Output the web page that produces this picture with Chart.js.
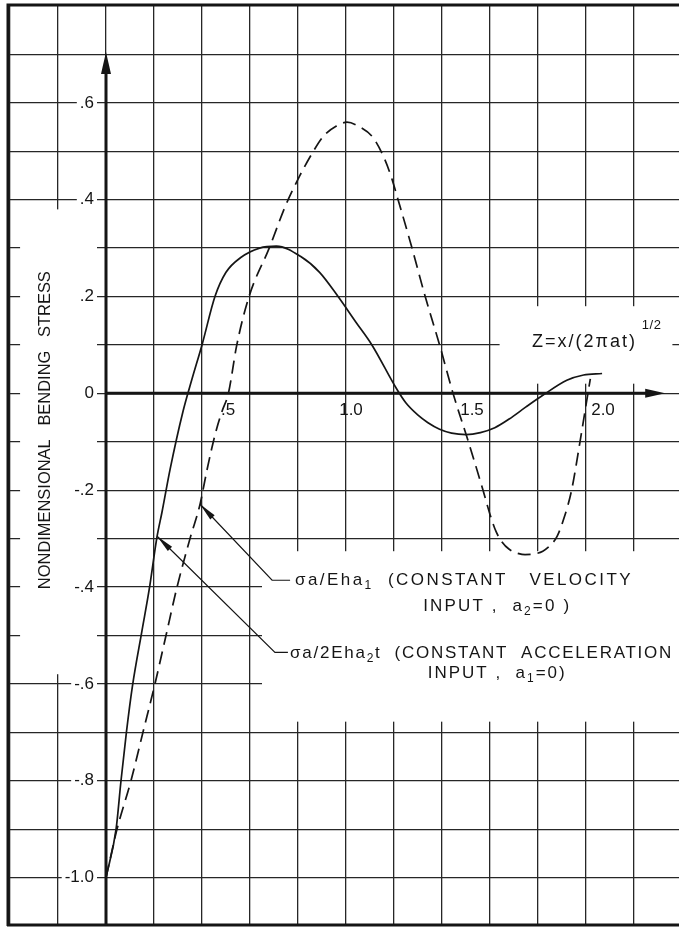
<!DOCTYPE html>
<html>
<head>
<meta charset="utf-8">
<title>Nondimensional bending stress vs Z</title>
<script src="https://cdn.jsdelivr.net/npm/chart.js@4.4.1/dist/chart.umd.min.js"></script>
<style>
  html, body { margin: 0; padding: 0; background: #fff; }
  #wrap { width: 679px; height: 927px; }
</style>
</head>
<body>
<div id="wrap"><canvas id="stressChart" width="679" height="927"></canvas></div>
<script>
// values
// solid curve: constant acceleration input
const solidZ = [0, 0.042, 0.0625, 0.085, 0.11, 0.15, 0.18, 0.213, 0.233, 0.267, 0.32, 0.358, 0.40, 0.454, 0.50, 0.56, 0.64, 0.71, 0.81, 0.89, 0.967, 1.04, 1.108, 1.21, 1.25, 1.30, 1.34, 1.39, 1.44, 1.50, 1.56, 1.62, 1.68, 1.75, 1.82, 1.92, 1.99, 2.067];
const solidStress = [-1.0, -0.90, -0.80, -0.70, -0.605, -0.49, -0.405, -0.295, -0.246, -0.157, -0.039, 0.029, 0.10, 0.20, 0.25, 0.28, 0.30, 0.304, 0.283, 0.25, 0.20, 0.148, 0.10, 0.01, -0.02, -0.045, -0.06, -0.074, -0.082, -0.085, -0.081, -0.071, -0.053, -0.028, -0.004, 0.027, 0.038, 0.041];

// dashed curve: constant velocity input
const dashedZ = [0, 0.046, 0.104, 0.154, 0.204, 0.25, 0.296, 0.35, 0.392, 0.40, 0.42, 0.44, 0.46, 0.485, 0.51, 0.545, 0.596, 0.68, 0.75, 0.808, 0.858, 0.904, 0.96, 1.004, 1.058, 1.113, 1.16, 1.19, 1.217, 1.275, 1.33, 1.39, 1.446, 1.51, 1.571, 1.60, 1.625, 1.65, 1.68, 1.72, 1.746, 1.78, 1.82, 1.855, 1.88, 1.91, 1.94, 1.975, 2.008, 2.018];
const dashedStress = [-1.0, -0.90, -0.80, -0.70, -0.60, -0.50, -0.40, -0.30, -0.229, -0.21, -0.16, -0.115, -0.075, -0.035, 0.0, 0.10, 0.20, 0.30, 0.39, 0.45, 0.495, 0.53, 0.552, 0.56, 0.55, 0.528, 0.485, 0.445, 0.40, 0.30, 0.20, 0.10, 0.0, -0.10, -0.20, -0.25, -0.285, -0.307, -0.322, -0.331, -0.333, -0.332, -0.326, -0.312, -0.295, -0.255, -0.20, -0.10, 0.0, 0.03];

// grid and tick labels
const xGridValues = [-0.4, -0.2, 0, 0.2, 0.4, 0.6, 0.8, 1.0, 1.2, 1.4, 1.6, 1.8, 2.0, 2.2];
const yGridValues = [-1.0, -0.9, -0.8, -0.7, -0.6, -0.5, -0.4, -0.3, -0.2, -0.1, 0, 0.1, 0.2, 0.3, 0.4, 0.5, 0.6, 0.7];
const xTickValues = [0.5, 1.0, 1.5, 2.0];
const xTickLabels = ['.5', '1.0', '1.5', '2.0'];
const yTickValues = [0.6, 0.4, 0.2, 0, -0.2, -0.4, -0.6, -0.8, -1.0];
const yTickLabels = ['.6', '.4', '.2', '0', '-.2', '-.4', '-.6', '-.8', '-1.0'];

const INK = '#151515';
const FONT = '"Liberation Sans", Arial, sans-serif';

// x labels sit a little right of their tick, clear of the curves (px)
const xLabelNudge = [2, 5, 6, 17];

// blank areas where the grid is interrupted (data units: z0, z1, top, bottom)
const gridGaps = [
    [-0.358, -0.0375, 0.38, -0.58],
    [1.64, 2.36, 0.18, 0.02],
    [0.65, 2.40, -0.326, -0.678]
];

// leader notes: arrow tip on the curve, elbow, text lines (sub = subscript)
const notes = [
    {
        tip: [0.392, -0.229], elbow: [0.692, -0.386], end: 0.767,
        lines: [
            { parts: [{ t: 'σa/Eha' }, { t: '1', sub: true }, { t: '  (CONSTANT   VELOCITY' }], z: 0.7875, v: -0.386, w: 338, align: 'left' },
            { parts: [{ t: 'INPUT ,  a' }, { t: '2', sub: true }, { t: '=0 )' }], z: 1.63, v: -0.44, w: 148, align: 'center' }
        ]
    },
    {
        tip: [0.213, -0.295], elbow: [0.704, -0.535], end: 0.758,
        lines: [
            { parts: [{ t: 'σa/2Eha' }, { t: '2', sub: true }, { t: 't  (CONSTANT  ACCELERATION' }], z: 0.767, v: -0.537, w: 383, align: 'left' },
            { parts: [{ t: 'INPUT ,  a' }, { t: '1', sub: true }, { t: '=0)' }], z: 1.63, v: -0.578, w: 139, align: 'center' }
        ]
    }
];

function toPoints(xs, ys) {
    return xs.map((x, i) => ({ x: x, y: ys[i] }));
}

// draws text pieces spread (letter spacing) or squeezed to a given width
function drawRich(ctx, parts, x, y, width, align, size) {
    ctx.save();
    ctx.letterSpacing = '0px';
    ctx.textAlign = 'left';
    const fonts = parts.map(p => (p.sub ? Math.round(size * 0.7) : size) + 'px ' + FONT);
    const widths = parts.map((p, i) => { ctx.font = fonts[i]; return ctx.measureText(p.t).width; });
    const total = widths.reduce((a, b) => a + b, 0);
    const count = parts.reduce((a, p) => a + p.t.length, 0);
    let left = align === 'center' ? x - width / 2 : x;
    if (total >= width) {
        ctx.translate(left, y);
        ctx.scale(width / total, 1);
        left = 0;
        y = 0;
    }
    const gap = Math.max((width - total) / count, 0);
    ctx.letterSpacing = gap + 'px';
    let cx = left;
    parts.forEach((p, i) => {
        ctx.font = fonts[i];
        ctx.fillText(p.t, cx, p.sub ? y + size * 0.3 : y);
        cx += widths[i] + gap * p.t.length;
    });
    ctx.restore();
}

function arrowHead(ctx, tx, ty, fromX, fromY, len, half) {
    const a = Math.atan2(ty - fromY, tx - fromX);
    ctx.beginPath();
    ctx.moveTo(tx, ty);
    ctx.lineTo(tx - len * Math.cos(a) + half * Math.sin(a), ty - len * Math.sin(a) - half * Math.cos(a));
    ctx.lineTo(tx - len * Math.cos(a) - half * Math.sin(a), ty - len * Math.sin(a) + half * Math.cos(a));
    ctx.closePath();
    ctx.fill();
}

const figurePlugin = {
    id: 'figure',
    beforeDatasetsDraw(chart) {
        const ctx = chart.ctx;
        const X = v => chart.scales.x.getPixelForValue(v);
        const Y = v => chart.scales.y.getPixelForValue(v);
        const area = chart.chartArea;

        ctx.save();
        // white gaps over the grid
        ctx.fillStyle = '#fff';
        gridGaps.forEach(g => {
            ctx.fillRect(X(g[0]), Y(g[2]), X(g[1]) - X(g[0]), Y(g[3]) - Y(g[2]));
        });

        // frame: left, top, bottom (no right edge in the original)
        ctx.strokeStyle = INK;
        ctx.lineWidth = 3;
        ctx.beginPath();
        ctx.moveTo(area.left + 1, area.bottom);
        ctx.lineTo(area.left + 1, area.top - 1);
        ctx.lineTo(area.right, area.top - 1);
        ctx.moveTo(area.left, area.bottom - 1);
        ctx.lineTo(area.right, area.bottom - 1);
        ctx.stroke();

        // axes with arrows
        ctx.fillStyle = INK;
        const yTip = Y(0.705);
        ctx.beginPath();
        ctx.moveTo(X(0), area.bottom);
        ctx.lineTo(X(0), yTip + 10);
        ctx.stroke();
        arrowHead(ctx, X(0), yTip, X(0), area.bottom, 22, 5);
        const xTip = X(2.33);
        ctx.beginPath();
        ctx.moveTo(X(0) - 1, Y(0));
        ctx.lineTo(xTip - 10, Y(0));
        ctx.stroke();
        arrowHead(ctx, xTip, Y(0), X(0), Y(0), 20, 4.5);

        // y tick labels
        ctx.font = '17px ' + FONT;
        ctx.textBaseline = 'middle';
        ctx.textAlign = 'right';
        yTickValues.forEach((v, i) => {
            const w = ctx.measureText(yTickLabels[i]).width;
            const rx = X(0) - 12;
            ctx.fillStyle = '#fff';
            ctx.fillRect(rx - w - 3, Y(v) - 8, w + 6, 16);
            ctx.fillStyle = INK;
            ctx.fillText(yTickLabels[i], rx, Y(v));
        });

        // x tick labels, just under the axis
        ctx.textAlign = 'center';
        xTickValues.forEach((v, i) => {
            ctx.fillText(xTickLabels[i], X(v) + xLabelNudge[i], Y(0) + 17);
        });

        // axis titles
        ctx.save();
        ctx.translate(X(-0.254), Y(-0.076));
        ctx.rotate(-Math.PI / 2);
        drawRich(ctx, [{ t: 'NONDIMENSIONAL   BENDING   STRESS' }], 0, 0, 318, 'center', 17);
        ctx.restore();

        drawRich(ctx, [{ t: 'Z=x/(2πat)' }], X(1.775), Y(0.107), 105, 'left', 18);
        drawRich(ctx, [{ t: '1/2' }], X(2.232), Y(0.14), 20, 'left', 13);
        ctx.restore();
    },
    afterDatasetsDraw(chart) {
        const ctx = chart.ctx;
        const X = v => chart.scales.x.getPixelForValue(v);
        const Y = v => chart.scales.y.getPixelForValue(v);

        ctx.save();
        ctx.strokeStyle = INK;
        ctx.fillStyle = INK;
        ctx.lineWidth = 1.2;
        ctx.textBaseline = 'middle';
        notes.forEach(n => {
            const tx = X(n.tip[0]), ty = Y(n.tip[1]);
            const ex = X(n.elbow[0]), ey = Y(n.elbow[1]);
            ctx.beginPath();
            ctx.moveTo(tx, ty);
            ctx.lineTo(ex, ey);
            ctx.lineTo(X(n.end), ey);
            ctx.stroke();
            arrowHead(ctx, tx, ty, ex, ey, 18, 3);
            n.lines.forEach(l => {
                drawRich(ctx, l.parts, X(l.z), Y(l.v), l.w, l.align, 17);
            });
        });
        ctx.restore();
    }
};

const gridStyle = {
    color: '#262626',
    lineWidth: 1.3,
    drawTicks: false
};

const chart = new Chart(document.getElementById('stressChart'), {
    type: 'scatter',
    data: {
        datasets: [
            {
                label: 'σa/Eha₁ (constant velocity input, a₂=0)',
                data: toPoints(dashedZ, dashedStress),
                showLine: true,
                borderColor: INK,
                borderWidth: 1.7,
                borderDash: [13, 7],
                pointRadius: 0,
                cubicInterpolationMode: 'monotone'
            },
            {
                label: 'σa/2Eha₂t (constant acceleration input, a₁=0)',
                data: toPoints(solidZ, solidStress),
                showLine: true,
                borderColor: INK,
                borderWidth: 1.7,
                pointRadius: 0,
                cubicInterpolationMode: 'monotone'
            }
        ]
    },
    options: {
        responsive: false,
        animation: false,
        devicePixelRatio: 1,
        layout: { padding: { left: 7, top: 6, right: 0, bottom: 1 } },
        plugins: {
            legend: { display: false },
            tooltip: { enabled: false }
        },
        scales: {
            x: {
                type: 'linear',
                min: -0.4125,
                max: 2.3875,
                afterBuildTicks: scale => { scale.ticks = xGridValues.map(v => ({ value: v })); },
                ticks: { display: false },
                grid: gridStyle,
                border: { display: false }
            },
            y: {
                type: 'linear',
                min: -1.1,
                max: 0.8,
                afterBuildTicks: scale => { scale.ticks = yGridValues.map(v => ({ value: v })); },
                ticks: { display: false },
                grid: gridStyle,
                border: { display: false }
            }
        }
    },
    plugins: [figurePlugin]
});
</script>
</body>
</html>
